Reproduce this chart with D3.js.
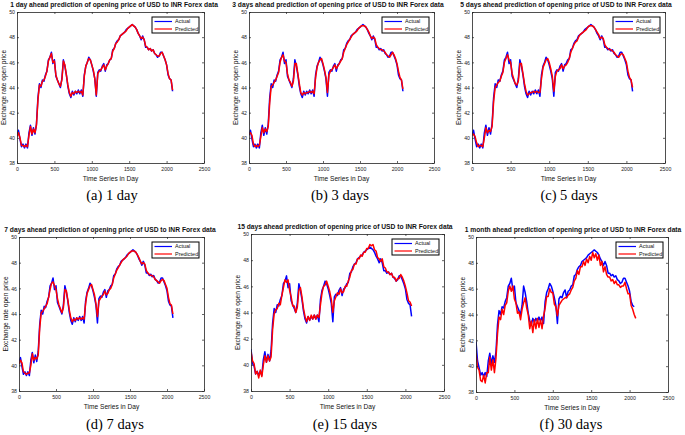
<!DOCTYPE html>
<html>
<head>
<meta charset="utf-8">
<script src="https://cdn.jsdelivr.net/npm/d3@7"></script>
<style>
  html, body { margin: 0; padding: 0; background: #fff; }
  svg { display: block; }
</style>
</head>
<body>
<script>
// ---------------- DATA ----------------
const dayStep = 20; // sampling interval of the series (days)
const xTicks = [0, 500, 1000, 1500, 2000, 2500];
const yTicks = [38, 40, 42, 44, 46, 48, 50];
const legendLabels = ["Actual", "Predicted"];

const actual = [40.2,40.6,39.9,39.3,39.5,39.2,39.5,39.2,40.4,41.0,40.2,40.8,40.3,41.1,43.2,44.3,44.0,44.6,44.5,45.0,45.3,46.2,46.4,46.8,45.9,46.2,44.9,44.6,44.3,44.0,44.7,46.2,45.7,45.0,44.1,43.5,43.2,43.7,43.4,43.7,43.5,43.8,43.5,43.8,43.3,45.0,45.7,46.0,46.4,46.2,45.8,45.3,44.7,43.3,45.2,45.4,45.3,45.7,45.9,45.3,45.8,45.9,46.2,46.3,47.0,47.1,47.5,47.7,47.8,48.1,48.2,48.3,48.4,48.6,48.7,48.8,48.9,49.0,48.9,48.8,48.6,48.3,48.1,47.8,48.1,47.8,47.2,47.2,47.0,47.1,46.9,47.0,46.7,46.6,46.4,46.5,46.8,46.8,46.5,46.2,45.8,45.0,44.7,44.6,43.7];
// first actual values differ for the longer horizons
const actualHeadE = [41.2, 40.1];
const actualHeadF = [41.9, 40.4];

const pred1 = [40.1,40.4,40.0,39.4,39.4,39.3,39.4,39.3,40.2,40.9,40.3,40.7,40.4,41.0,43.0,44.2,44.1,44.5,44.6,44.9,45.3,46.1,46.4,46.7,46.0,46.1,45.0,44.6,44.3,44.1,44.6,46.1,45.8,45.0,44.2,43.6,43.3,43.6,43.5,43.7,43.6,43.7,43.6,43.7,43.4,44.9,45.7,46.0,46.3,46.2,45.8,45.4,44.7,43.4,45.1,45.3,45.4,45.6,45.8,45.4,45.7,45.9,46.2,46.3,46.9,47.1,47.5,47.6,47.8,48.1,48.2,48.3,48.4,48.5,48.7,48.8,48.9,49.0,48.9,48.8,48.6,48.3,48.1,47.9,48.0,47.8,47.3,47.2,47.0,47.1,46.9,47.0,46.7,46.6,46.5,46.5,46.7,46.8,46.5,46.2,45.8,45.1,44.7,44.6,43.8];
const pred3 = [40.3,40.4,40.2,39.5,39.3,39.4,39.3,39.4,40.1,40.8,40.4,40.7,40.5,40.9,42.8,44.1,44.2,44.4,44.6,44.9,45.2,46.0,46.4,46.6,46.1,46.0,45.1,44.6,44.4,44.1,44.5,45.9,45.9,45.1,44.3,43.6,43.4,43.6,43.5,43.6,43.6,43.7,43.6,43.7,43.5,44.8,45.6,46.0,46.2,46.3,45.9,45.4,44.8,43.6,45.0,45.3,45.4,45.6,45.8,45.5,45.7,45.9,46.1,46.3,46.8,47.1,47.4,47.6,47.8,48.0,48.2,48.3,48.4,48.5,48.7,48.8,48.9,48.9,48.9,48.8,48.6,48.4,48.1,47.9,48.0,47.9,47.4,47.2,47.1,47.0,47.0,46.9,46.8,46.6,46.5,46.4,46.6,46.8,46.6,46.3,45.9,45.3,44.8,44.6,43.9];
const pred5 = [40.2,40.3,40.1,39.6,39.3,39.4,39.4,39.3,40.0,40.8,40.4,40.6,40.5,40.9,42.9,44.0,44.2,44.4,44.5,44.9,45.2,46.0,46.3,46.6,46.2,46.0,45.1,44.7,44.3,44.2,44.5,45.9,45.9,45.1,44.3,43.7,43.4,43.5,43.6,43.6,43.7,43.6,43.7,43.6,43.6,44.7,45.6,45.9,46.2,46.3,46.0,45.5,44.9,43.7,44.9,45.3,45.4,45.5,45.8,45.5,45.7,45.8,46.0,46.3,46.8,47.1,47.4,47.6,47.7,48.0,48.2,48.3,48.4,48.5,48.6,48.8,48.9,48.9,48.9,48.8,48.6,48.4,48.2,47.9,48.0,47.9,47.4,47.2,47.1,47.0,47.0,46.9,46.8,46.6,46.5,46.4,46.6,46.7,46.6,46.3,46.0,45.3,44.8,44.6,44.0];
const pred7 = [40.1,40.4,40.2,39.5,39.4,39.3,39.4,39.4,40.0,40.9,40.4,40.6,40.5,40.8,42.9,44.1,44.2,44.4,44.6,44.8,45.3,45.9,46.4,46.5,46.2,45.9,45.2,44.7,44.4,44.1,44.5,45.9,45.8,45.1,44.3,43.7,43.4,43.6,43.5,43.7,43.6,43.7,43.6,43.7,43.6,44.8,45.6,45.9,46.2,46.3,45.9,45.5,44.8,43.8,45.0,45.2,45.4,45.5,45.8,45.5,45.6,45.9,46.0,46.3,46.8,47.1,47.4,47.6,47.8,48.0,48.2,48.3,48.4,48.5,48.7,48.8,48.9,48.9,48.9,48.8,48.6,48.4,48.1,47.9,48.0,47.9,47.4,47.2,47.1,47.0,47.0,46.9,46.7,46.6,46.5,46.4,46.6,46.7,46.6,46.3,46.0,45.3,44.8,44.7,44.0];
const pred15 = [41.0,40.3,40.1,39.3,39.5,39.0,39.6,39.1,40.0,40.7,40.2,40.7,40.3,40.6,42.7,43.9,44.2,44.3,44.7,44.6,45.3,45.9,46.5,46.3,46.5,45.7,45.2,44.5,44.5,44.0,44.4,45.7,45.9,45.2,44.3,43.7,43.3,43.7,43.4,43.8,43.5,43.8,43.5,43.8,43.6,44.6,45.5,46.0,46.1,46.4,46.0,45.6,45.0,44.0,44.9,45.2,45.5,45.4,45.8,45.5,45.6,46.0,46.0,46.4,46.7,47.2,47.3,47.7,47.7,48.1,48.1,48.4,48.3,48.6,48.6,48.9,48.9,49.2,49.1,49.2,48.8,48.7,48.2,48.1,47.9,48.1,47.5,47.4,47.1,47.1,46.9,47.0,46.7,46.7,46.4,46.6,46.6,46.9,46.7,46.4,46.0,45.5,44.9,44.8,44.5];
const pred30 = [41.0,39.9,39.7,38.9,38.8,39.3,38.7,39.5,39.5,40.7,39.7,40.5,39.5,40.6,42.5,43.8,43.6,44.4,44.0,44.7,44.9,45.8,46.2,45.8,46.2,45.2,44.9,44.1,44.2,43.6,44.4,44.9,45.3,44.5,44.0,42.9,43.5,42.6,43.6,42.9,43.7,43.0,43.6,42.9,43.9,44.5,45.4,45.4,46.0,45.7,45.7,44.8,44.6,43.9,44.7,44.9,45.1,45.2,45.3,45.3,45.5,45.6,45.9,46.1,46.6,46.8,47.4,47.1,47.7,47.7,48.1,47.8,48.3,48.0,48.5,48.2,48.8,48.4,48.7,48.2,48.6,47.8,48.1,47.3,47.7,47.1,46.9,46.9,46.6,46.7,46.4,46.6,46.3,46.3,46.1,46.2,46.2,46.5,46.0,45.6,45.6,44.7,44.4,44.0,43.7];

const titles = [
  "1 day ahead prediction of opening price of USD to INR Forex data",
  "3 days ahead prediction of opening price of USD to INR Forex data",
  "5 days ahead prediction of opening price of USD to INR Forex data",
  "7 days ahead prediction of opening price of USD to INR Forex data",
  "15 days ahead prediction of opening price of USD to INR Forex data",
  "1 month ahead prediction of opening price of USD to INR Forex data"
];
const captions = ["(a) 1 day", "(b) 3 days", "(c) 5 days", "(d) 7 days", "(e) 15 days", "(f) 30 days"];
const predictedSeries = [pred1, pred3, pred5, pred7, pred15, pred30];
const actualHeads = [[], [], [], [], actualHeadE, actualHeadF];
const actualLengths = [105, 105, 105, 105, 105, 104];
const xLabel = "Time Series in Day";
const yLabel = "Exchange rate open price";

// ---------------- LAYOUT ----------------
const boxes = [
  {x0: 17,  x1: 204, y0: 12,  y1: 163, cap: 112, capY: 200, tx: 114},
  {x0: 249, x1: 434, y0: 12,  y1: 163, cap: 340, capY: 200, tx: 338},
  {x0: 472, x1: 665, y0: 12,  y1: 163, cap: 569, capY: 200, tx: 566},
  {x0: 19,  x1: 204, y0: 237, y1: 391, cap: 115, capY: 429, tx: 110},
  {x0: 251, x1: 444, y0: 234, y1: 391, cap: 345, capY: 429, tx: 345},
  {x0: 476, x1: 668, y0: 237, y1: 392, cap: 571, capY: 429, tx: 573}
];

const BLUE = "#0000ff", RED = "#ff0000";
const svg = d3.select("body").append("svg").attr("width", 685).attr("height", 435);

boxes.forEach((b, i) => {
  const g = svg.append("g");
  const x = d3.scaleLinear().domain([0, 2500]).range([b.x0, b.x1]);
  const y = d3.scaleLinear().domain([38, 50]).range([b.y1, b.y0]);

  const head = actualHeads[i];
  const act = actual.slice(0, actualLengths[i]).map((v, k) => k < head.length ? head[k] : v);
  const pred = predictedSeries[i];

  const clipId = "clip" + i;
  svg.append("clipPath").attr("id", clipId).append("rect")
    .attr("x", b.x0).attr("y", b.y0).attr("width", b.x1 - b.x0).attr("height", b.y1 - b.y0);

  const line = d3.line().x((d, k) => x(k * dayStep)).y(d => y(d));
  const lg = g.append("g").attr("clip-path", `url(#${clipId})`);
  lg.append("path").datum(act).attr("d", line).attr("fill", "none")
    .attr("stroke", BLUE).attr("stroke-width", 1.5).attr("stroke-linejoin", "round");
  lg.append("path").datum(pred).attr("d", line).attr("fill", "none")
    .attr("stroke", RED).attr("stroke-width", 1.5).attr("stroke-linejoin", "round");

  // axes (MATLAB style: box, inward ticks)
  const fontTick = "Liberation Sans, Arial, sans-serif";
  const ax = g.append("g").attr("transform", `translate(0,${b.y1})`)
    .call(d3.axisBottom(x).tickValues(xTicks).tickSize(-2).tickSizeOuter(0).tickPadding(4).tickFormat(d3.format("d")));
  const ay = g.append("g").attr("transform", `translate(${b.x0},0)`)
    .call(d3.axisLeft(y).tickValues(yTicks).tickSize(-2).tickSizeOuter(0).tickPadding(2).tickFormat(d3.format("d")));
  const at = g.append("g").attr("transform", `translate(0,${b.y0})`)
    .call(d3.axisTop(x).tickValues(xTicks).tickSize(-2).tickSizeOuter(0).tickFormat(""));
  const ar = g.append("g").attr("transform", `translate(${b.x1},0)`)
    .call(d3.axisRight(y).tickValues(yTicks).tickSize(-2).tickSizeOuter(0).tickFormat(""));
  [ax, ay, at, ar].forEach(a => {
    a.selectAll("path.domain").attr("stroke", "#222").attr("stroke-width", 0.8);
    a.selectAll(".tick line").attr("stroke", "#222").attr("stroke-width", 0.7);
    a.selectAll(".tick text").attr("font-family", fontTick).attr("font-size", 5.2).attr("fill", "#222");
  });

  // legend
  const lw = 47, lh = 16;
  const lx = b.x1 - 5 - lw, ly = b.y0 + 5;
  const leg = g.append("g");
  leg.append("rect").attr("x", lx).attr("y", ly).attr("width", lw).attr("height", lh)
    .attr("fill", "#fff").attr("stroke", "#000").attr("stroke-width", 1);
  legendLabels.forEach((lab, k) => {
    const yy = ly + 4.5 + k * 7.5;
    leg.append("line").attr("x1", lx + 2.5).attr("x2", lx + 20).attr("y1", yy).attr("y2", yy)
      .attr("stroke", k === 0 ? BLUE : RED).attr("stroke-width", 1.2);
    leg.append("text").attr("x", lx + 23).attr("y", yy).attr("dy", "0.35em")
      .attr("font-family", fontTick).attr("font-size", 5.5).attr("fill", "#111").text(lab);
  });

  // title
  g.append("text").attr("x", b.tx).attr("y", b.y0 - 5)
    .attr("text-anchor", "middle").attr("font-family", fontTick).attr("font-weight", "bold")
    .attr("font-size", 6.7).attr("fill", "#111").text(titles[i]);
  // x label
  g.append("text").attr("x", (b.x0 + b.x1) / 2).attr("y", b.y1 + 18)
    .attr("text-anchor", "middle").attr("font-family", fontTick)
    .attr("font-size", 6.6).attr("fill", "#111").text(xLabel);
  // y label
  const ylx = b.x0 - 13, yly = (b.y0 + b.y1) / 2;
  g.append("text").attr("transform", `translate(${ylx},${yly}) rotate(-90)`)
    .attr("text-anchor", "middle").attr("dy", "0.35em").attr("font-family", fontTick)
    .attr("font-size", 6.6).attr("fill", "#111").text(yLabel);
  // caption
  g.append("text").attr("x", b.cap).attr("y", b.capY)
    .attr("text-anchor", "middle").attr("font-family", "Liberation Serif, Times New Roman, serif")
    .attr("font-size", 14.5).attr("fill", "#000").text(captions[i]);
});
</script>
</body>
</html>
